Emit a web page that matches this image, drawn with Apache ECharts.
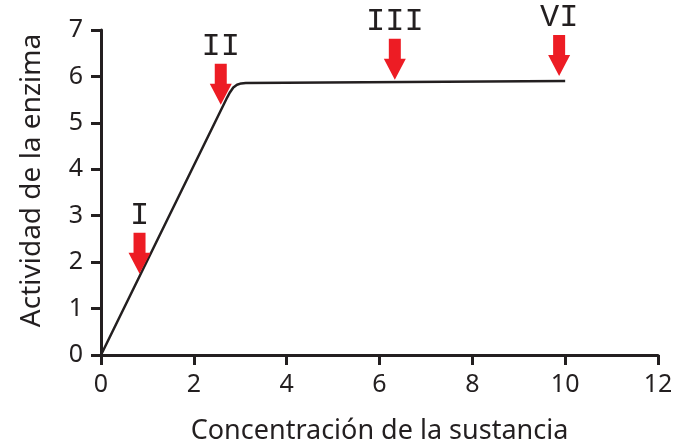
<!DOCTYPE html>
<html>
<head>
<meta charset="utf-8">
<script src="https://cdn.jsdelivr.net/npm/echarts@6/dist/echarts.min.js"></script>
<style>
  html, body { margin: 0; padding: 0; background: #fff; }
  #chart { width: 683px; height: 445px; }
</style>
</head>
<body>
<div id="chart"></div>
<script>
// curve (concentration, activity)
const curveX = [0, 2.72, 2.78, 2.85, 2.93, 3.02, 3.12, 10.0];
const curveY = [0, 5.55, 5.66, 5.76, 5.82, 5.85, 5.86, 5.9];

// arrow tips and their labels
const arrowNames = ['I', 'II', 'III', 'VI'];
const arrowX = [0.83, 2.58, 6.33, 9.87];
const arrowY = [1.75, 5.39, 5.93, 6.01];

const xTicks = [0, 2, 4, 6, 8, 10, 12];
const yTicks = [0, 1, 2, 3, 4, 5, 6, 7];

const ink = '#231f20';
const red = '#ed1c24';
const arrowPath = 'path://M5,0 L17,0 L17,20 L22,20 L11,41 L0,20 L5,20 Z';

const chart = echarts.init(document.getElementById('chart'));

const option = {
  animation: false,
  grid: { left: 101, right: 25, top: 30, bottom: 90, containLabel: false, outerBoundsMode: 'none' },
  xAxis: {
    type: 'value',
    min: xTicks[0],
    max: xTicks[xTicks.length - 1],
    interval: 2,
    name: 'Concentración de la sustancia',
    nameLocation: 'middle',
    nameGap: 63,
    nameTextStyle: { fontFamily: 'Noto Sans', fontSize: 27, color: ink },
    axisLine: { lineStyle: { color: ink, width: 3 } },
    axisTick: { show: true, length: 10, lineStyle: { color: ink, width: 3 } },
    axisLabel: { fontFamily: 'Noto Sans', fontSize: 25, color: ink, margin: 17 },
    splitLine: { show: false }
  },
  yAxis: {
    type: 'value',
    min: yTicks[0],
    max: yTicks[yTicks.length - 1],
    interval: 1,
    name: 'Actividad de la enzima',
    nameLocation: 'middle',
    nameGap: 55,
    nameTextStyle: { fontFamily: 'Noto Sans', fontSize: 28, color: ink, padding: [0, 0, 0, 24] },
    axisLine: { show: true, lineStyle: { color: ink, width: 3 } },
    axisTick: { show: true, length: 10, lineStyle: { color: ink, width: 3 } },
    axisLabel: { fontFamily: 'Noto Sans', fontSize: 25, color: ink, margin: 18 },
    splitLine: { show: false }
  },
  series: [
    {
      type: 'line',
      data: curveX.map((x, i) => [x, curveY[i]]),
      showSymbol: false,
      lineStyle: { color: ink, width: 2.5 },
      z: 3
    },
    {
      type: 'scatter',
      data: arrowX.map((x, i) => ({ name: arrowNames[i], value: [x, arrowY[i]] })),
      symbol: arrowPath,
      symbolSize: [22, 41],
      symbolOffset: [0, '-50%'],
      itemStyle: { color: red, opacity: 1 },
      label: {
        show: true,
        position: 'top',
        distance: 1,
        formatter: (p) => p.name,
        fontFamily: 'Liberation Mono',
        fontSize: 32,
        color: ink
      },
      z: 4
    }
  ]
};

chart.setOption(option);
</script>
</body>
</html>
